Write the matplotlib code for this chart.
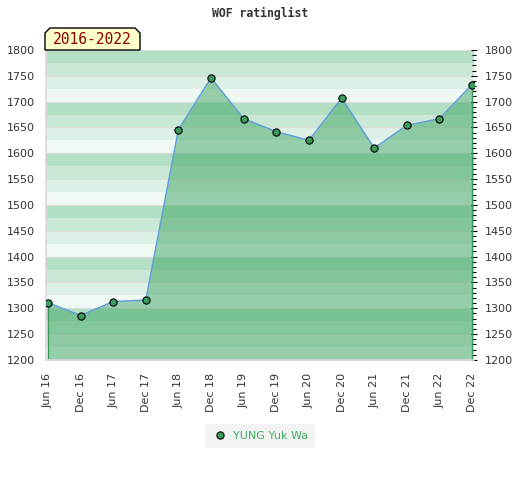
import matplotlib

matplotlib.use("Agg")
import matplotlib.pyplot as plt
import matplotlib.ticker as mtick
from matplotlib.patches import Polygon

# Rating history, half-yearly
periods = [
    "Jun 16", "Dec 16", "Jun 17", "Dec 17", "Jun 18", "Dec 18", "Jun 19",
    "Dec 19", "Jun 20", "Dec 20", "Jun 21", "Dec 21", "Jun 22", "Dec 22",
]
ratings = [1311, 1286, 1313, 1316, 1646, 1746, 1667,
           1642, 1625, 1707, 1610, 1654, 1667, 1733]
player = "YUNG Yuk Wa"
title = "WOF ratinglist"
span_label = "2016-2022"
y_min, y_max = 1200, 1800

# Band colours inside each block of 100, from top to bottom
band_colors = ["#b3dfc4", "#c9e8d6", "#ddf0e5", "#eff8f3"]
fill_color = "#3fa664"
marker_color = "#3a9b5c"
line_color = "#5fa0d8"
text_color = "#333333"

px = 1 / 100
fig = plt.figure(figsize=(520 * px, 480 * px), dpi=100)
ax = fig.add_axes([46 / 520, 1 - 360 / 480, 428 / 520, 310 / 480])

x = list(range(len(periods)))

# Background stripes
band = 25
for lo in range(y_min, y_max, band):
    idx = ((y_max - lo - band) // band) % 4
    ax.axhspan(lo, lo + band, color=band_colors[idx], lw=0, zorder=0)
for v in range(y_min, y_max + 1, 50):
    ax.axhline(v, color="#dcdcdc", lw=0.8, zorder=0.5)

# Filled area under the rating line
ax.fill_between(x, ratings, y_min, color=fill_color, alpha=0.5, lw=0, zorder=1)
ax.vlines([x[0], x[-1]], y_min, [ratings[0], ratings[-1]],
          color=marker_color, lw=1, zorder=2)
ax.plot(x, ratings, color=line_color, lw=1.1, zorder=3)
ax.plot(x, ratings, ls="none", marker="o", ms=5.2, mfc=marker_color,
        mec="black", mew=0.8, zorder=4, label=player)

ax.set_xlim(-0.06, len(periods) - 1 + 0.06)
ax.set_ylim(y_min, y_max)
ax.set_xticks(x)
ax.set_xticklabels(periods, rotation=90, fontsize=8, color=text_color)
ax.tick_params(axis="x", length=0, pad=9)

ax.yaxis.set_major_locator(mtick.MultipleLocator(50))
ax.yaxis.set_minor_locator(mtick.MultipleLocator(10))
ax.tick_params(axis="y", which="both", left=False, right=True,
               labelleft=True, labelright=True, direction="inout",
               labelsize=8, labelcolor=text_color, pad=6)
ax.tick_params(axis="y", which="major", length=4, width=0.8)
ax.tick_params(axis="y", which="minor", length=2.5, width=0.8)

for side in ["top", "right"]:
    ax.spines[side].set_visible(False)
for side in ["left", "bottom"]:
    ax.spines[side].set_color("#d8d8d8")
    ax.spines[side].set_linewidth(1.2)

fig.text(0.5, 1 - 13 / 480, title, ha="center", va="center",
         family="DejaVu Sans Mono", fontsize=8.3, fontweight="bold", color="#333333")

# Period tag with clipped top corners
x0, x1 = 45 / 520, 140 / 520
y0, y1 = 1 - 50 / 480, 1 - 28 / 480
cx, cy = 5 / 520, 5 / 480
tag = Polygon(
    [(x0, y0), (x0, y1 - cy), (x0 + cx, y1), (x1 - cx, y1), (x1, y1 - cy), (x1, y0)],
    closed=True, transform=fig.transFigure, facecolor="#ffffcc",
    edgecolor="black", lw=1, zorder=5,
)
fig.patches.append(tag)
fig.text((x0 + x1) / 2, (y0 + y1) / 2 - 1 / 480, span_label, ha="center", va="center",
         family="DejaVu Sans Mono", fontsize=10.5, color="#8b0000", zorder=6)

leg = ax.legend(loc="center", bbox_to_anchor=(0.5, -76 / 310), frameon=True,
                fontsize=8, handletextpad=0.5, borderpad=0.6, handlelength=1.4)
leg.get_frame().set_facecolor("#f0f0f0")
leg.get_frame().set_edgecolor("none")
leg.get_frame().set_boxstyle("square", pad=0)
for t in leg.get_texts():
    t.set_color("#3fae64")

fig.savefig("out.png", dpi=100)
